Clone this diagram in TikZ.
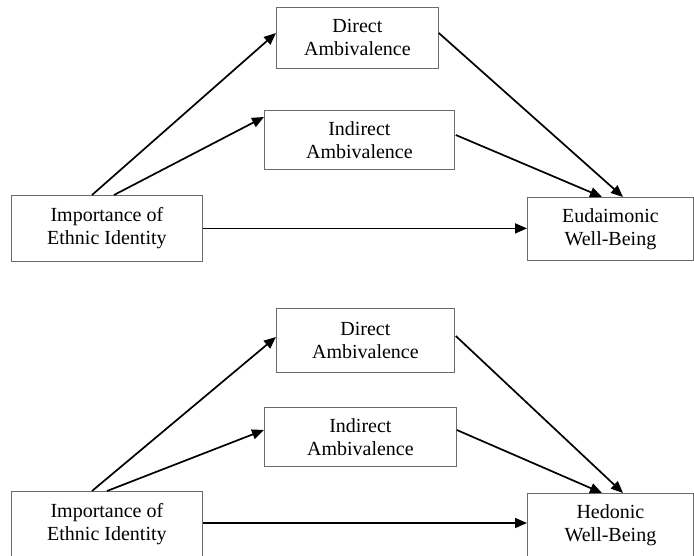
\documentclass[tikz,border=0pt]{standalone}
\usepackage{fontspec}
\setmainfont{Liberation Serif}
\usetikzlibrary{arrows.meta,calc}
\definecolor{boxgray}{rgb}{0.42,0.42,0.42}
\tikzset{
  varbox/.style={draw=boxgray, line width=0.8pt, fill=white, align=center, inner sep=0pt,
    font=\fontsize{20}{23}\selectfont, anchor=north west},
  path arrow/.style={draw=black, line width=1.7pt, -{Triangle[length=12pt,width=10pt]}}
}
\begin{document}
\begin{tikzpicture}[x=1pt,y=-1pt]
\useasboundingbox (0,0) rectangle (694,556);
\clip (0,0) rectangle (694,556);
% ---- top model ----
\node[varbox, minimum width=162pt, minimum height=61pt] (dir1) at (276,7) {Direct\\Ambivalence};
\node[varbox, minimum width=190pt, minimum height=59pt] (ind1) at (264,110) {Indirect\\Ambivalence};
\node[varbox, minimum width=191pt, minimum height=66pt] (imp1) at (11,195) {Importance of\\Ethnic Identity};
\node[varbox, minimum width=166pt, minimum height=63pt] (out1) at (527,197) {Eudaimonic\\Well-Being};
\draw[path arrow] ($(imp1.north west)+(81,0)$) -- ($(dir1.north west)+(0,26)$);
\draw[path arrow] ($(imp1.north west)+(103,0)$) -- ($(ind1.north west)+(0,7)$);
\draw[path arrow] (imp1.east) -- (imp1.east -| out1.west);
\draw[path arrow] ($(dir1.north east)+(0,26)$) -- ($(out1.north west)+(96,0)$);
\draw[path arrow] ($(ind1.north east)+(1,25)$) -- ($(out1.north west)+(75,0)$);
% ---- bottom model ----
\node[varbox, minimum width=178pt, minimum height=64pt] (dir2) at (276,308) {Direct\\Ambivalence};
\node[varbox, minimum width=192pt, minimum height=59pt] (ind2) at (264,407) {Indirect\\Ambivalence};
\node[varbox, minimum width=191pt, minimum height=66pt] (imp2) at (11,491) {Importance of\\Ethnic Identity};
\node[varbox, minimum width=166pt, minimum height=63pt] (out2) at (527,493) {Hedonic\\Well-Being};
\draw[path arrow] ($(imp2.north west)+(81,0)$) -- ($(dir2.north west)+(0,29)$);
\draw[path arrow] ($(imp2.north west)+(96,0)$) -- ($(ind2.north west)+(0,23)$);
\draw[path arrow] ($(imp2.north east)+(0,32)$) -- ($(out2.north west)+(0,30)$);
\draw[path arrow] ($(dir2.north east)+(1,28)$) -- ($(out2.north west)+(96,0)$);
\draw[path arrow] ($(ind2.north east)+(0,23)$) -- ($(out2.north west)+(75,0)$);
\end{tikzpicture}
\end{document}
